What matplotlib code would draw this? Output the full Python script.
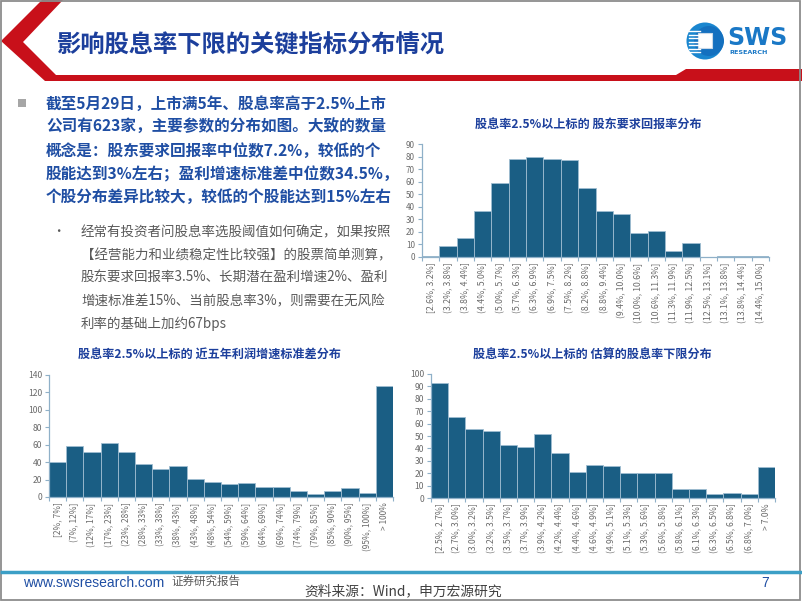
import matplotlib
matplotlib.use('Agg')
import matplotlib.pyplot as plt
from matplotlib.patches import Polygon, Rectangle, Circle
import numpy as np

plt.rcParams['font.family'] = ['Noto Sans CJK SC', 'DejaVu Sans']

W, H = 802, 602

# ---------------- data ----------------
roe_labels = ["[2.6%, 3.2%]", "(3.2%, 3.8%]", "(3.8%, 4.4%]", "(4.4%, 5.0%]", "(5.0%, 5.7%]",
              "(5.7%, 6.3%]", "(6.3%, 6.9%]", "(6.9%, 7.5%]", "(7.5%, 8.2%]", "(8.2%, 8.8%]",
              "(8.8%, 9.4%]", "(9.4%, 10.0%]", "(10.0%, 10.6%]", "(10.6%, 11.3%]", "(11.3%, 11.9%]",
              "(11.9%, 12.5%]", "(12.5%, 13.1%]", "(13.1%, 13.8%]", "(13.8%, 14.4%]", "(14.4%, 15.0%]"]
roe_counts = [1, 9, 15, 37, 59, 78, 80, 78, 77, 55, 37, 34, 19, 21, 5, 11, 0, 1, 1, 1]

std_labels = ["[2%, 7%]", "(7%, 12%]", "(12%, 17%]", "(17%, 23%]", "(23%, 28%]", "(28%, 33%]",
              "(33%, 38%]", "(38%, 43%]", "(43%, 48%]", "(48%, 54%]", "(54%, 59%]", "(59%, 64%]",
              "(64%, 69%]", "(69%, 74%]", "(74%, 79%]", "(79%, 85%]", "(85%, 90%]", "(90%, 95%]",
              "(95%, 100%]", "> 100%"]
std_counts = [40, 58, 52, 62, 52, 38, 32, 36, 21, 17, 15, 16, 12, 12, 7, 4, 7, 10, 5, 127]

floor_labels = ["[2.5%, 2.7%]", "(2.7%, 3.0%]", "(3.0%, 3.2%]", "(3.2%, 3.5%]", "(3.5%, 3.7%]",
                "(3.7%, 3.9%]", "(3.9%, 4.2%]", "(4.2%, 4.4%]", "(4.4%, 4.6%]", "(4.6%, 4.9%]",
                "(4.9%, 5.1%]", "(5.1%, 5.3%]", "(5.3%, 5.6%]", "(5.6%, 5.8%]", "(5.8%, 6.1%]",
                "(6.1%, 6.3%]", "(6.3%, 6.5%]", "(6.5%, 6.8%]", "(6.8%, 7.0%]", "> 7.0%"]
floor_counts = [93, 65, 56, 54, 43, 41, 52, 36, 21, 27, 26, 20, 20, 20, 7, 7, 3, 4, 3, 25]

title_text = "影响股息率下限的关键指标分布情况"
bold_lines = ["截至5月29日，上市满5年、股息率高于2.5%上市",
              "公司有623家，主要参数的分布如图。大致的数量",
              "概念是：股东要求回报率中位数7.2%，较低的个",
              "股能达到3%左右；盈利增速标准差中位数34.5%，",
              "个股分布差异比较大，较低的个股能达到15%左右"]
sub_lines = ["经常有投资者问股息率选股阈值如何确定，如果按照",
             "【经营能力和业绩稳定性比较强】的股票简单测算，",
             "股东要求回报率3.5%、长期潜在盈利增速2%、盈利",
             "增速标准差15%、当前股息率3%，则需要在无风险",
             "利率的基础上加约67bps"]
chart_titles = ["股息率2.5%以上标的 股东要求回报率分布",
                "股息率2.5%以上标的 近五年利润增速标准差分布",
                "股息率2.5%以上标的 估算的股息率下限分布"]

# ---------------- styles ----------------
BAR = '#1a5e84'
EDGE = '#9fbdd1'
AXC = '#8fb0c8'
TXT = '#6b6b6b'
NAVY = '#1c3f9c'
BLUE = '#1f4ea3'
RED = '#c8101a'

fig = plt.figure(figsize=(W / 100, H / 100), dpi=100)
bg = fig.add_axes([0, 0, 1, 1])
bg.set_xlim(0, W)
bg.set_ylim(H, 0)
bg.axis('off')

# header chevron + red bar
bg.add_patch(Polygon([(42, 0), (63, 0), (23, 42), (56, 75), (676, 75), (686, 69),
                      (802, 69), (802, 81), (45, 81), (1, 41)],
                     closed=True, facecolor=RED, edgecolor='none'))
# slide border
bg.add_patch(Rectangle((1, 1), 799, 599, fill=False, edgecolor='#8c8c8c', linewidth=1.3))
# bottom teal line
bg.plot([0, W], [572, 572], color='#3c9fc6', linewidth=2.5, solid_capstyle='butt')

# title
bg.text(57, 45, title_text, fontsize=17.5, fontweight='bold', color=NAVY,
        ha='left', va='center')

# logo
bg.add_patch(Circle((705, 41), 18.5, facecolor='#1a86cf', edgecolor='none'))
bg.add_patch(Circle((709, 41), 15, facecolor='#1470bf', edgecolor='none'))
for yy in [31, 34.5, 38, 41.5, 45, 48.5, 52]:
    bg.plot([689, 700], [yy, yy], color='white', linewidth=1.0)
bg.add_patch(Rectangle((698, 33), 14, 15, facecolor='white', edgecolor='#c9d9e8', linewidth=0.8))
bg.text(727, 38, "SWS", fontsize=17, fontweight='bold', color='#1a78c6',
        ha='left', va='center', family=['DejaVu Sans'])
bg.text(729, 52, "RESEARCH", fontsize=4.6, fontweight='bold', color='#1a78c6',
        ha='left', va='center', family=['DejaVu Sans'])

# main bullet
bg.add_patch(Rectangle((18, 99), 8, 8, facecolor='#a6a6a6', edgecolor='none'))
for i, line in enumerate(bold_lines):
    bg.text(46, 104 + i * 23.3, line, fontsize=11.25, fontweight='bold', color=BLUE,
            ha='left', va='center')

bg.text(58, 232, "•", fontsize=9, color='#595959', ha='center', va='center')
for i, line in enumerate(sub_lines):
    bg.text(81, 232 + i * 23, line, fontsize=9.7, color='#595959', ha='left', va='center')

# footer
bg.text(23, 583, "www.swsresearch.com", fontsize=10, color=BLUE, ha='left', va='center',
        family=['Liberation Sans'])
bg.text(171, 581, "证券研究报告", fontsize=8.3, color='#595959', ha='left', va='center')
bg.text(304, 591, "资料来源：Wind，申万宏源研究", fontsize=9.9, color='#404040', ha='left',
        va='center')
bg.text(765, 583, "7", fontsize=10, color=BLUE, ha='center', va='center',
        family=['Liberation Sans'])


def hist_axes(rect_px, labels, counts, ymax, ystep, xfs, yfs, title, title_xy):
    l, t, r, b = rect_px
    ax = fig.add_axes([l / W, 1 - b / H, (r - l) / W, (b - t) / H])
    n = len(counts)
    x = np.arange(n)
    ax.bar(x, counts, width=1.0, color=BAR, edgecolor=EDGE, linewidth=0.6)
    ax.set_xlim(-0.5, n - 0.5)
    ax.set_ylim(0, ymax)
    ax.set_yticks(np.arange(0, ymax + 1, ystep))
    ax.set_xticks(x)
    ax.set_xticklabels(labels, rotation=90, fontsize=xfs, color=TXT)
    ax.set_xticks(np.arange(n + 1) - 0.5, minor=True)
    ax.tick_params(axis='x', which='major', length=0, pad=4)
    ax.tick_params(axis='x', which='minor', length=3, color=AXC, width=0.8)
    ax.tick_params(axis='y', length=3, color=AXC, width=0.8, labelsize=yfs,
                   labelcolor=TXT, pad=2)
    for s in ['top', 'right']:
        ax.spines[s].set_visible(False)
    for s in ['left', 'bottom']:
        ax.spines[s].set_color(AXC)
        ax.spines[s].set_linewidth(0.9)
    ax.set_facecolor('none')
    bg.text(title_xy[0], title_xy[1], title, fontsize=8.7, fontweight='bold', color=NAVY,
            ha='center', va='center')
    return ax


hist_axes((422, 144, 769, 257), roe_labels, roe_counts, 90, 10, 6.3, 5.8,
          chart_titles[0], (588, 125))
hist_axes((49, 375, 393, 497), std_labels, std_counts, 140, 20, 6.0, 6.2,
          chart_titles[1], (210, 355))
hist_axes((431, 374, 775, 498), floor_labels, floor_counts, 100, 10, 6.2, 6.2,
          chart_titles[2], (592, 355))

fig.savefig('out.png', dpi=100)
